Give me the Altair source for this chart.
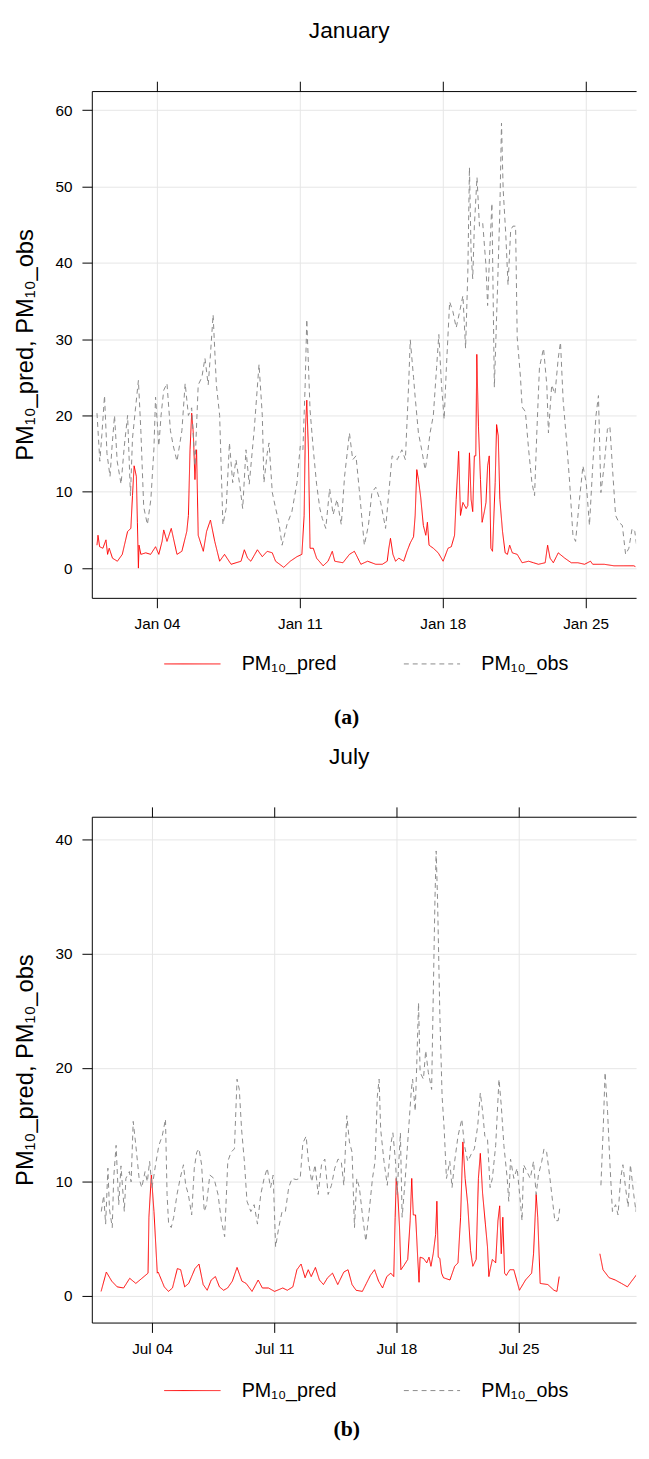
import altair as alt
import pandas as pd

# ---------------- data (days since the 1st of the month, PM10 values) ----------------
jan_obs_d = [0.06, 0.2, 0.3, 0.43, 0.55, 0.7, 0.8, 0.92, 1.05, 1.24, 1.4, 1.56, 1.7, 1.8, 1.95,
             2.09, 2.21, 2.35, 2.53, 2.7, 2.85, 2.93, 3.09, 3.2, 3.33, 3.49, 3.66, 3.8, 3.98, 4.1,
             4.22, 4.38, 4.54, 4.7, 4.86, 5.02, 5.2, 5.35, 5.51, 5.62, 5.75, 5.91, 6.07, 6.23, 6.39,
             6.55, 6.71, 6.87, 7.05, 7.2, 7.36, 7.52, 7.76, 8.0, 8.16, 8.24, 8.4, 8.49, 8.65, 8.8,
             8.97, 9.13, 9.37, 9.61, 9.86, 10.02, 10.15, 10.26, 10.34, 10.5, 10.66, 10.82, 10.98,
             11.1, 11.27, 11.46, 11.63, 11.82, 12.03, 12.19, 12.43, 12.59, 12.75, 12.91, 13.16,
             13.36, 13.53, 13.72, 13.96, 14.2, 14.36, 14.52, 14.77, 15.0, 15.17, 15.33, 15.41,
             15.57, 15.65, 15.81, 15.97, 16.14, 16.22, 16.38, 16.54, 16.7, 16.81, 16.94, 17.07,
             17.18, 17.34, 17.5, 17.66, 17.83, 17.99, 18.12, 18.23, 18.31, 18.39, 18.47, 18.55,
             18.68, 18.8, 18.96, 19.12, 19.2, 19.28, 19.41, 19.53, 19.69, 19.8, 19.88, 19.96,
             20.09, 20.2, 20.33, 20.44, 20.57, 20.65, 20.81, 20.89, 21.05, 21.21, 21.37, 21.5,
             21.61, 21.74, 21.94, 22.1, 22.18, 22.34, 22.5, 22.66, 22.77, 22.9, 23.06, 23.22,
             23.38, 23.51, 23.7, 23.87, 24.03, 24.19, 24.35, 24.51, 24.63, 24.75, 24.91, 25.07,
             25.19, 25.31, 25.47, 25.63, 25.8, 25.96, 26.12, 26.28, 26.41, 26.52]
jan_obs_v = [20.3, 14, 17.5, 22.6, 15, 12, 16, 20, 14, 11, 16, 20, 9.5, 17, 21,
             24.6, 18, 8, 5.7, 9, 15.6, 22.4, 16, 20, 23.3, 24.2, 18, 16, 14, 16,
             18, 24.2, 20, 21, 13.4, 24, 25, 27.5, 24, 28, 33.2, 24, 20, 5.7, 7.8,
             16.4, 11.2, 14.2, 11, 7.8, 15.5, 11, 18, 26.7, 20, 11.2, 15, 16.4, 9.9, 8,
             6, 3, 5.7, 7.4, 11.2, 16, 15.5, 24, 32.6, 20.7, 15.5, 11, 7.8,
             6.5, 5.2, 10.4, 7, 9, 5.7, 12, 17.7, 14.2, 14.7, 10.3, 3,
             5.6, 9.9, 10.6, 8.6, 5.2, 9.9, 14.7, 14.2, 15.5, 14.2, 24, 29.9,
             25, 22.4, 17.7, 15.5, 12.9, 14.2, 17.7, 20, 26.3, 30.6, 24, 19.5,
             26.3, 34.9, 33.6, 31.5, 33.6, 35.7, 28.8, 38.7, 52.5, 41.3, 37.9, 44.8,
             51.2, 44.8, 45.2, 39.6, 34.4, 40, 47.8, 23.7, 37.1, 47, 58.3, 49.7,
             43.7, 37.1, 44.3, 44.8, 44.8, 30.2, 25, 21.1, 20.5, 15.5, 11.2, 9.5,
             17.7, 26.3, 28.8, 24, 17.7, 24, 22.8, 27.5, 29.6, 22, 16.9, 11.2,
             4.3, 3.5, 9, 13.4, 11.2, 5.6, 13.4, 20, 22.6, 9.9, 13.4, 18.2,
             18.6, 13.4, 6.9, 6, 5.6, 1.8, 2.6, 5.2, 4.8, 2.6]

jan_pred_d = [0.06, 0.11, 0.19, 0.35, 0.5, 0.58, 0.66, 0.82, 1.06, 1.3, 1.56, 1.72, 1.8, 1.88,
              1.99, 2.04, 2.09, 2.12, 2.21, 2.45, 2.69, 2.93, 3.09, 3.25, 3.33, 3.49, 3.7, 3.98,
              4.22, 4.46, 4.54, 4.62, 4.7, 4.78, 4.86, 4.94, 5.02, 5.27, 5.43, 5.62, 5.83, 6.07,
              6.31, 6.63, 7.12, 7.28, 7.44, 7.6, 7.92, 8.16, 8.4, 8.65, 8.81, 9.21, 9.53, 9.86,
              10.1, 10.21, 10.27, 10.34, 10.42, 10.5, 10.66, 10.82, 11.14, 11.38, 11.59, 11.71,
              12.11, 12.43, 12.67, 12.75, 12.99, 13.32, 13.72, 14.04, 14.28, 14.36, 14.44, 14.56,
              14.69, 14.85, 15.09, 15.25, 15.41, 15.57, 15.65, 15.73, 15.81, 15.92, 16.05, 16.17,
              16.25, 16.33, 16.54, 16.78, 17.02, 17.26, 17.42, 17.58, 17.66, 17.78, 17.87, 17.99,
              18.15, 18.23, 18.31, 18.39, 18.47, 18.55, 18.62, 18.67, 18.75, 18.85, 18.93, 19.04,
              19.12, 19.2, 19.28, 19.36, 19.44, 19.57, 19.64, 19.72, 19.8, 19.93, 20.06, 20.17,
              20.28, 20.41, 20.65, 20.89, 21.21, 21.45, 21.69, 22.02, 22.14, 22.26, 22.42, 22.66,
              22.98, 23.3, 23.62, 23.95, 24.24, 24.35, 24.91, 25.39, 25.88, 26.36, 26.44]
jan_pred_v = [3.0, 4.3, 2.8, 2.6, 3.7, 1.8, 2.6, 1.3, 0.9, 1.8, 4.8, 5.2, 9.5, 13.4,
              12.0, 6.0, 0.0, 3.0, 1.8, 2.0, 1.8, 2.8, 1.8, 3.5, 5.0, 3.5, 5.2, 1.8,
              2.2, 4.8, 6.9, 15.5, 20.3, 17.7, 11.6, 15.5, 4.3, 2.2, 4.8, 6.3, 3.5, 0.9,
              1.8, 0.5, 0.9, 2.4, 1.3, 0.9, 2.4, 1.5, 2.2, 2.0, 0.9, 0.1, 0.9, 1.5,
              1.8, 6.9, 18.0, 22.0, 15.5, 2.6, 2.6, 1.3, 0.3, 0.9, 2.2, 0.9,
              0.7, 1.8, 2.2, 1.8, 0.5, 0.9, 0.5, 0.5, 0.9, 2.6, 3.9, 1.8,
              0.9, 1.3, 0.9, 2.2, 3.3, 4.1, 6.9, 12.9, 11.6, 9.3, 5.6, 4.3,
              6.0, 3.0, 2.6, 2.0, 0.9, 2.6, 2.8, 4.3, 9.0, 15.3, 6.9, 8.6,
              7.8, 8.2, 15.1, 9.0, 7.4, 14.7, 14.7, 28.0, 18.6, 11.6, 6.0, 7.4,
              8.6, 13.4, 14.7, 2.6, 2.2, 11.2, 18.8, 17.3, 9.0, 4.8, 2.0, 1.8,
              3.0, 2.0, 1.8, 0.7, 0.9, 0.7, 0.5, 0.7, 3.0, 1.3, 0.7, 2.0,
              1.3, 0.7, 0.7, 0.5, 0.9, 0.5, 0.5, 0.3, 0.3, 0.3, 0.2]

jul_obs_d1 = [0.09, 0.23, 0.34, 0.47, 0.56, 0.72, 0.8, 0.94, 1.09, 1.22, 1.41, 1.5, 1.7, 1.8,
              1.92, 2.07, 2.26, 2.41, 2.6, 2.73, 2.86, 3.0, 3.2, 3.39, 3.58, 3.77, 3.86, 3.95,
              4.1, 4.24, 4.43, 4.61, 4.8, 4.93, 5.08, 5.27, 5.42, 5.56, 5.69, 5.84, 5.99, 6.12,
              6.31, 6.55, 6.78, 6.97, 7.16, 7.34, 7.53, 7.72, 7.87, 8.0, 8.13, 8.29, 8.44, 8.66,
              8.85, 9.04, 9.23, 9.42, 9.6, 9.79, 9.94, 10.08, 10.26, 10.45, 10.64, 10.83, 11.02,
              11.26, 11.49, 11.64, 11.83, 11.96, 12.15, 12.34, 12.52, 12.71, 12.9, 13.09, 13.28,
              13.47, 13.66, 13.84, 13.99, 14.16, 14.31, 14.46, 14.6, 14.73, 14.88, 15.07, 15.25,
              15.44, 15.63, 15.78, 15.91, 16.01, 16.1, 16.29, 16.48, 16.67, 16.8, 16.95, 17.04,
              17.23, 17.33, 17.51, 17.7, 17.86, 17.93, 18.08, 18.17, 18.27, 18.36, 18.55, 18.68,
              18.83, 19.02, 19.11, 19.21, 19.28, 19.36, 19.49, 19.62, 19.74, 19.87, 20.06, 20.19,
              20.34, 20.53, 20.75, 20.9, 21.09, 21.28, 21.47, 21.66, 21.81, 21.94, 22.07, 22.22,
              22.37, 22.5, 22.69, 22.88, 23.01, 23.16, 23.35, 23.44, 23.54, 23.73, 23.92, 24.1,
              24.2, 24.29, 24.48, 24.67, 24.86, 25.01, 25.14, 25.33, 25.46, 25.61, 25.8, 25.95,
              26.08, 26.27, 26.37]
jul_obs_v1 = [7.4, 8.8, 6.3, 11.2, 7.6, 6.0, 10.3, 13.2, 8.0, 11.4, 7.4, 10.3, 10.9, 10.0,
              15.3, 13.2, 10.3, 9.5, 10.9, 10.0, 11.8, 9.5, 11.5, 13.2, 14.0, 15.5, 8.9, 6.3,
              6.0, 6.9, 8.9, 10.3, 11.5, 9.7, 8.9, 7.1, 11.2, 12.6, 12.9, 11.5, 7.4, 8.0,
              10.6, 10.3, 8.9, 6.6, 5.2, 11.8, 12.6, 12.9, 19.0, 18.1, 14.6, 11.8, 8.3, 7.4,
              8.0, 6.3, 8.9, 10.3, 11.2, 9.5, 10.6, 4.3, 6.0, 7.4, 7.4, 9.5, 10.3,
              10.2, 10.3, 13.4, 14.0, 11.8, 10.0, 11.5, 8.9, 11.5, 12.0, 8.9, 9.7,
              11.2, 12.0, 11.8, 9.7, 15.8, 13.5, 12.6, 6.0, 10.3, 9.5, 6.9, 4.8,
              7.4, 10.3, 11.8, 17.5, 19.0, 14.6, 11.8, 9.7, 13.2, 14.3, 11.8, 8.9,
              14.3, 6.9, 10.3, 14.6, 18.1, 19.0, 16.2, 20.4, 25.7, 19.6, 19.0, 21.5,
              19.6, 18.1, 26.1, 34.7, 39.0, 34.7, 24.7, 17.5, 14.6, 10.3, 11.8, 9.5,
              11.8, 14.0, 15.5, 13.2, 11.8, 12.4, 12.9, 14.9, 17.8, 16.2, 14.0, 13.8,
              9.5, 10.3, 13.2, 19.0, 16.7, 13.2, 10.3, 8.3, 12.0, 10.3, 11.2, 8.3,
              6.6, 11.5, 10.9, 10.3, 11.8, 8.9, 10.6, 11.8, 12.9, 12.6, 10.3, 8.3,
              6.6, 6.6, 7.8]
jul_obs_d2 = [28.72, 28.85, 28.96, 29.1, 29.23, 29.38, 29.56, 29.7, 29.85, 29.98, 30.13, 30.28,
              30.41, 30.6, 30.73, 30.88, 31.01]
jul_obs_v2 = [9.7, 14.6, 19.6, 16.2, 11.8, 7.4, 8.0, 7.1, 10.3, 11.5, 9.5, 7.8,
              11.5, 8.9, 7.4, 10.3, 10.9]

jul_pred_d1 = [0.08, 0.38, 0.69, 1.0, 1.37, 1.72, 2.07, 2.42, 2.77, 2.82, 2.96, 3.11, 3.3, 3.35,
               3.7, 3.94, 4.17, 4.45, 4.64, 4.87, 5.1, 5.46, 5.69, 5.93, 6.16, 6.39, 6.63, 6.86,
               7.1, 7.33, 7.6, 7.87, 8.15, 8.39, 8.73, 9.08, 9.32, 9.67, 10.02, 10.49, 10.75,
               11.07, 11.3, 11.54, 11.77, 11.95, 12.12, 12.36, 12.59, 12.82, 13.06, 13.34, 13.64,
               13.99, 14.23, 14.46, 14.69, 15.05, 15.28, 15.51, 15.75, 15.98, 16.21, 16.45, 16.68,
               16.85, 16.93, 16.99, 17.08, 17.18, 17.26, 17.4, 17.65, 17.79, 17.88, 17.97, 18.1,
               18.22, 18.3, 18.36, 18.55, 18.74, 18.87, 18.98, 19.11, 19.25, 19.32, 19.4, 19.49,
               19.59, 19.7, 20.07, 20.34, 20.53, 20.68, 20.81, 20.94, 21.09, 21.25, 21.38, 21.57,
               21.7, 21.81, 21.94, 22.1, 22.22, 22.3, 22.37, 22.5, 22.69, 22.82, 22.92, 23.01,
               23.1, 23.2, 23.3, 23.5, 23.73, 24.05, 24.4, 24.75, 24.86, 24.95, 25.01, 25.1,
               25.24, 25.68, 26.03, 26.2, 26.33]
jul_pred_v1 = [0.4, 2.1, 1.3, 0.8, 0.7, 1.55, 1.1, 1.55, 2.0, 6.9, 10.6, 7.4, 2.0, 2.1,
               0.8, 0.4, 0.7, 2.4, 2.3, 0.8, 1.1, 2.4, 2.8, 1.0, 0.5, 1.4, 1.7, 0.8,
               0.5, 0.7, 1.3, 2.5, 1.3, 1.1, 0.4, 1.4, 0.7, 0.7, 0.4, 0.7, 0.5,
               0.8, 2.3, 2.8, 1.6, 2.3, 1.7, 2.5, 1.4, 1.0, 1.6, 2.0, 1.0,
               2.1, 2.3, 1.0, 0.5, 0.4, 1.1, 1.8, 2.3, 1.3, 0.7, 1.7, 2.0,
               1.7, 6.9, 10.3, 9.0, 6.0, 2.3, 2.6, 3.2, 6.6, 10.3, 7.1, 7.1,
               3.4, 1.2, 3.4, 3.3, 2.9, 3.4, 2.6, 3.7, 5.4, 8.3, 3.4, 3.3,
               2.0, 1.6, 1.4, 2.6, 2.9, 6.9, 13.5, 10.3, 8.0, 4.0, 2.6, 3.2,
               10.3, 12.5, 9.0, 6.3, 4.3, 1.7, 2.3, 3.2, 2.9, 6.6, 7.9, 3.7,
               6.9, 2.0, 1.8, 2.3, 2.3, 0.5, 1.4, 2.0, 3.7, 6.9, 8.9, 6.9,
               1.1, 1.0, 0.5, 0.4, 1.7]
jul_pred_d2 = [28.66, 28.84, 29.19, 29.54, 29.9, 30.24, 30.48, 30.83, 31.0]
jul_pred_v2 = [3.7, 2.3, 1.6, 1.4, 1.1, 0.8, 1.3, 2.0, 2.8]

series_names = ["PM\u2081\u2080_pred", "PM\u2081\u2080_obs"]
series_colors = ["#ff0000", "#8a8a8a"]
series_dashes = [[1, 0], [5, 4]]
y_title = "PM\u2081\u2080_pred, PM\u2081\u2080_obs"

jan_ticks = [4, 11, 18, 25]
jul_ticks = [4, 11, 18, 25]
jan_yticks = [0, 10, 20, 30, 40, 50, 60]
jul_yticks = [0, 10, 20, 30, 40]

FONT = "Liberation Sans"
PLOT_W = 552
LEFT_PX = 92  # page x of plot's left edge (used to derive domain start)


def make_df(year, month, parts):
    base = pd.Timestamp(year=year, month=month, day=1)
    rows = []
    for name, seg, days, vals in parts:
        for d, v in zip(days, vals):
            t = base + pd.Timedelta(days=d)
            rows.append({"time": t.strftime("%Y-%m-%dT%H:%M:%S"), "value": v,
                         "series": name, "seg": seg})
    return pd.DataFrame(rows)


def dt(ts):
    return alt.DateTime(year=ts.year, month=ts.month, date=ts.day,
                        hours=ts.hour, minutes=ts.minute, seconds=ts.second)


def panel(df, year, month, d0, d1, ticks, ydom, yticks, title, caption, height,
          cap_pad, leg_y):
    base_ts = pd.Timestamp(year=year, month=month, day=1)
    xdom = [dt(base_ts + pd.Timedelta(days=d0)), dt(base_ts + pd.Timedelta(days=d1))]
    tick_vals = [alt.DateTime(year=year, month=month, date=t) for t in ticks]
    xscale = alt.Scale(domain=xdom)
    yscale = alt.Scale(domain=ydom, nice=False, zero=False)
    leg = alt.Legend(orient="none", legendX=73, legendY=leg_y, direction="horizontal",
                     title=None, symbolType="stroke", symbolSize=3249, symbolStrokeWidth=1,
                     labelFontSize=20, labelOffset=21, columnPadding=65, labelFont=FONT,
                     labelColor="black", labelLimit=0)
    lines = alt.Chart(df).mark_line(strokeWidth=1, clip=True).encode(
        x=alt.X("time:T", scale=xscale,
                axis=alt.Axis(values=tick_vals, format="%b %d", orient="bottom",
                              title=caption, titleFont="Liberation Serif", titleFontSize=22,
                              titleFontWeight="bold", titleX=258, titlePadding=cap_pad,
                              labelPadding=9, tickSize=10, grid=True, labelFlush=False)),
        y=alt.Y("value:Q", scale=yscale,
                axis=alt.Axis(values=yticks, title=y_title, titleFontSize=24,
                              titleFontWeight="normal", titlePadding=18,
                              labelPadding=10, tickSize=10, grid=True)),
        color=alt.Color("series:N", scale=alt.Scale(domain=series_names, range=series_colors),
                        legend=leg),
        strokeDash=alt.StrokeDash("series:N",
                                  scale=alt.Scale(domain=series_names, range=series_dashes),
                                  legend=leg),
        detail="seg:N",
    )
    top = alt.Chart(df).mark_line(opacity=0).encode(
        x=alt.X("time:T", scale=xscale,
                axis=alt.Axis(values=tick_vals, orient="top", labels=False, title=None,
                              grid=False, tickSize=10)),
        y=alt.Y("value:Q", scale=yscale, axis=None),
        detail="seg:N",
    )
    return alt.layer(lines, top).resolve_axis(x="independent", y="independent").properties(
        width=PLOT_W, height=height,
        title=alt.TitleParams(title, fontSize=23, font=FONT, fontWeight="normal",
                              color="black", frame="group", dx=-15, offset=38))


jan_df = make_df(2019, 1, [(series_names[0], "p", jan_pred_d, jan_pred_v),
                           (series_names[1], "o", jan_obs_d, jan_obs_v)])
jul_df = make_df(2019, 7, [(series_names[0], "p1", jul_pred_d1, jul_pred_v1),
                           (series_names[0], "p2", jul_pred_d2, jul_pred_v2),
                           (series_names[1], "o1", jul_obs_d1, jul_obs_v1),
                           (series_names[1], "o2", jul_obs_d2, jul_obs_v2)])

jan_d0 = (LEFT_PX - 96) / 20.7
jan_d1 = jan_d0 + PLOT_W / 20.7
jul_d0 = (LEFT_PX - 100) / 17.7
jul_d1 = jul_d0 + PLOT_W / 17.7

pa = panel(jan_df, 2019, 1, jan_d0, jan_d1, jan_ticks, [-3.9, 62.5], jan_yticks,
           "January", "(a)", 514, 76, 552)
pb = panel(jul_df, 2019, 7, jul_d0, jul_d1, jul_ticks, [-2.33, 42.0], jul_yticks,
           "July", "(b)", 513, 63, 553)

chart = alt.vconcat(pa, pb, spacing=18).resolve_scale(
    x="independent", y="independent", color="independent", strokeDash="independent"
).properties(
    padding={"left": 5, "top": 2, "right": 0, "bottom": 0}
).configure_view(stroke=None).configure_axis(
    domainColor="black", tickColor="black", labelColor="black", titleColor="black",
    gridColor="#e6e6e6", labelFont=FONT, titleFont=FONT, labelFontSize=15.5,
    domainWidth=1, tickWidth=1
)

chart.save("out.html", embed_options={"renderer": "svg", "actions": False})
